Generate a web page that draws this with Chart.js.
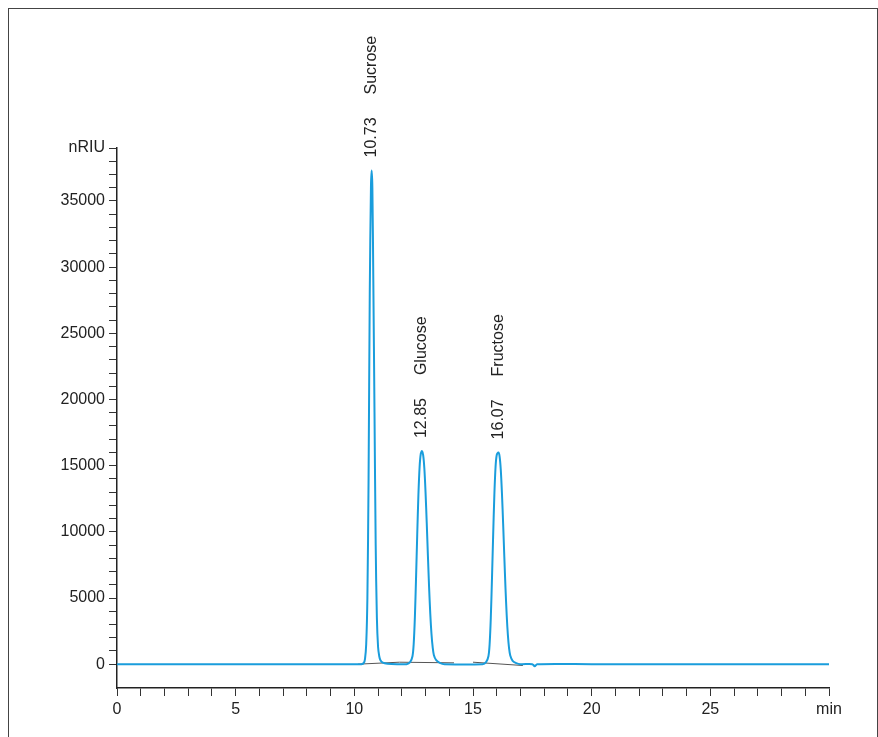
<!DOCTYPE html>
<html>
<head>
<meta charset="utf-8">
<script src="https://cdn.jsdelivr.net/npm/chart.js@4"></script>
<style>
  html, body { margin: 0; padding: 0; background: #fff; }
  #wrap { position: relative; width: 878px; height: 737px; }
  #frame { position: absolute; left: 8px; top: 8px; width: 868px; height: 740px; border: 1px solid #444; border-bottom: none; }
  canvas { position: absolute; left: 0; top: 0; }
</style>
</head>
<body>
<div id="wrap">
  <div id="frame"></div>
  <canvas id="chart" width="878" height="737"></canvas>
</div>
<script>
// retention time (min) and signal (nRIU)
const times = [
  0, 5, 10, 10.3, 10.4, 10.45, 10.5, 10.55, 10.6, 10.65, 10.7, 10.73, 10.76, 10.8, 10.85, 10.9, 10.95, 11.0, 11.05, 11.1, 11.2, 11.4, 11.8,
  12.2, 12.35, 12.45, 12.5, 12.55, 12.6, 12.65, 12.7, 12.75, 12.8, 12.85, 12.9, 12.95, 13.0, 13.05, 13.1, 13.15, 13.2, 13.25, 13.3, 13.35, 13.45, 13.6, 13.8,
  15.4, 15.55, 15.65, 15.7, 15.75, 15.8, 15.85, 15.9, 15.95, 16.0, 16.07, 16.12, 16.17, 16.22, 16.27, 16.32, 16.37, 16.42, 16.47, 16.52, 16.57, 16.67, 16.82, 17.0,
  17.5, 17.6, 17.7, 20, 25, 30
];
const signal = [
  0, 0, 0, 0, 100, 400, 1500, 5000, 14000, 28000, 36000, 37300, 36000, 29000, 19000, 9000, 3500, 1300, 600, 300, 120, 40, 0,
  0, 150, 600, 1500, 3500, 6500, 9800, 12800, 14900, 15900, 16100, 15800, 14800, 13000, 10700, 8200, 5800, 3800, 2300, 1300, 700, 300, 100, 0,
  0, 150, 600, 1500, 3500, 6500, 9800, 12800, 14900, 15800, 16000, 15700, 14700, 12900, 10600, 8100, 5700, 3700, 2200, 1200, 650, 250, 80, 0,
  0, -150, 0, 0, 0, 0
];
// integration baselines
const baseTimes = [10.15, 11.9, 14.2, null, 15.0, 17.1];
const baseValues = [0, 150, 100, null, 150, -100];

const peakNames = ["Sucrose", "Glucose", "Fructose"];
const peakTimes = [10.73, 12.85, 16.07];
const peakHeights = [37300, 16100, 16000];

const xTickMax = 30;
const yTickMax = 39000;

const textFont = "16px 'Liberation Sans Narrow', 'Liberation Sans', Arial, sans-serif";

const peakLabels = {
  id: "peakLabels",
  afterDatasetsDraw(chart) {
    const {ctx, scales: {x, y}} = chart;
    ctx.save();
    ctx.font = textFont;
    ctx.fillStyle = "#222";
    ctx.textAlign = "left";
    ctx.textBaseline = "middle";
    peakNames.forEach((name, i) => {
      const px = x.getPixelForValue(peakTimes[i]);
      const py = y.getPixelForValue(peakHeights[i]);
      [[peakTimes[i].toFixed(2), 13], [name, 76]].forEach(([text, off]) => {
        ctx.save();
        ctx.translate(px, py - off);
        ctx.rotate(-Math.PI / 2);
        ctx.fillText(text, 0, 0);
        ctx.restore();
      });
    });
    ctx.restore();
  }
};

new Chart(document.getElementById("chart"), {
  type: "line",
  data: {
    datasets: [
      {
        data: times.map((t, i) => ({x: t, y: signal[i]})),
        borderColor: "#1a9ddc", borderWidth: 2, pointRadius: 0, tension: 0.3, order: 1
      },
      {
        data: baseTimes.map((t, i) => ({x: t, y: baseValues[i]})),
        borderColor: "#555", borderWidth: 1, pointRadius: 0, spanGaps: false, order: 2
      }
    ]
  },
  options: {
    responsive: false,
    animation: false,
    layout: {padding: {top: 148, right: 49, left: 0, bottom: 0}},
    plugins: {legend: {display: false}, tooltip: {enabled: false}},
    scales: {
      x: {
        type: "linear", min: 0, max: xTickMax,
        afterBuildTicks: s => { s.ticks = []; for (let v = 0; v <= xTickMax; v++) s.ticks.push({value: v}); },
        afterFit: s => { s.height = 49; },
        ticks: {
          autoSkip: false, maxRotation: 0, color: "#222", padding: 4,
          font: {family: "'Liberation Sans Narrow', 'Liberation Sans', Arial", size: 16},
          callback: v => v === xTickMax ? "min" : (v % 5 === 0 ? String(v) : "")
        },
        grid: {drawOnChartArea: false, tickLength: 8, color: "#333"},
        border: {color: "#222", width: 1.5}
      },
      y: {
        type: "linear", min: -1800, max: yTickMax,
        afterBuildTicks: s => { s.ticks = []; for (let v = 0; v <= yTickMax; v += 1000) s.ticks.push({value: v}); },
        afterFit: s => { s.width = 117; },
        ticks: {
          autoSkip: false, color: "#222", padding: 4,
          font: {family: "'Liberation Sans Narrow', 'Liberation Sans', Arial", size: 16},
          callback: v => v === yTickMax ? "nRIU" : (v % 5000 === 0 ? String(v) : "")
        },
        grid: {drawOnChartArea: false, tickLength: 8, color: "#333"},
        border: {color: "#222", width: 1.5}
      }
    }
  },
  plugins: [peakLabels]
});
</script>
</body>
</html>
